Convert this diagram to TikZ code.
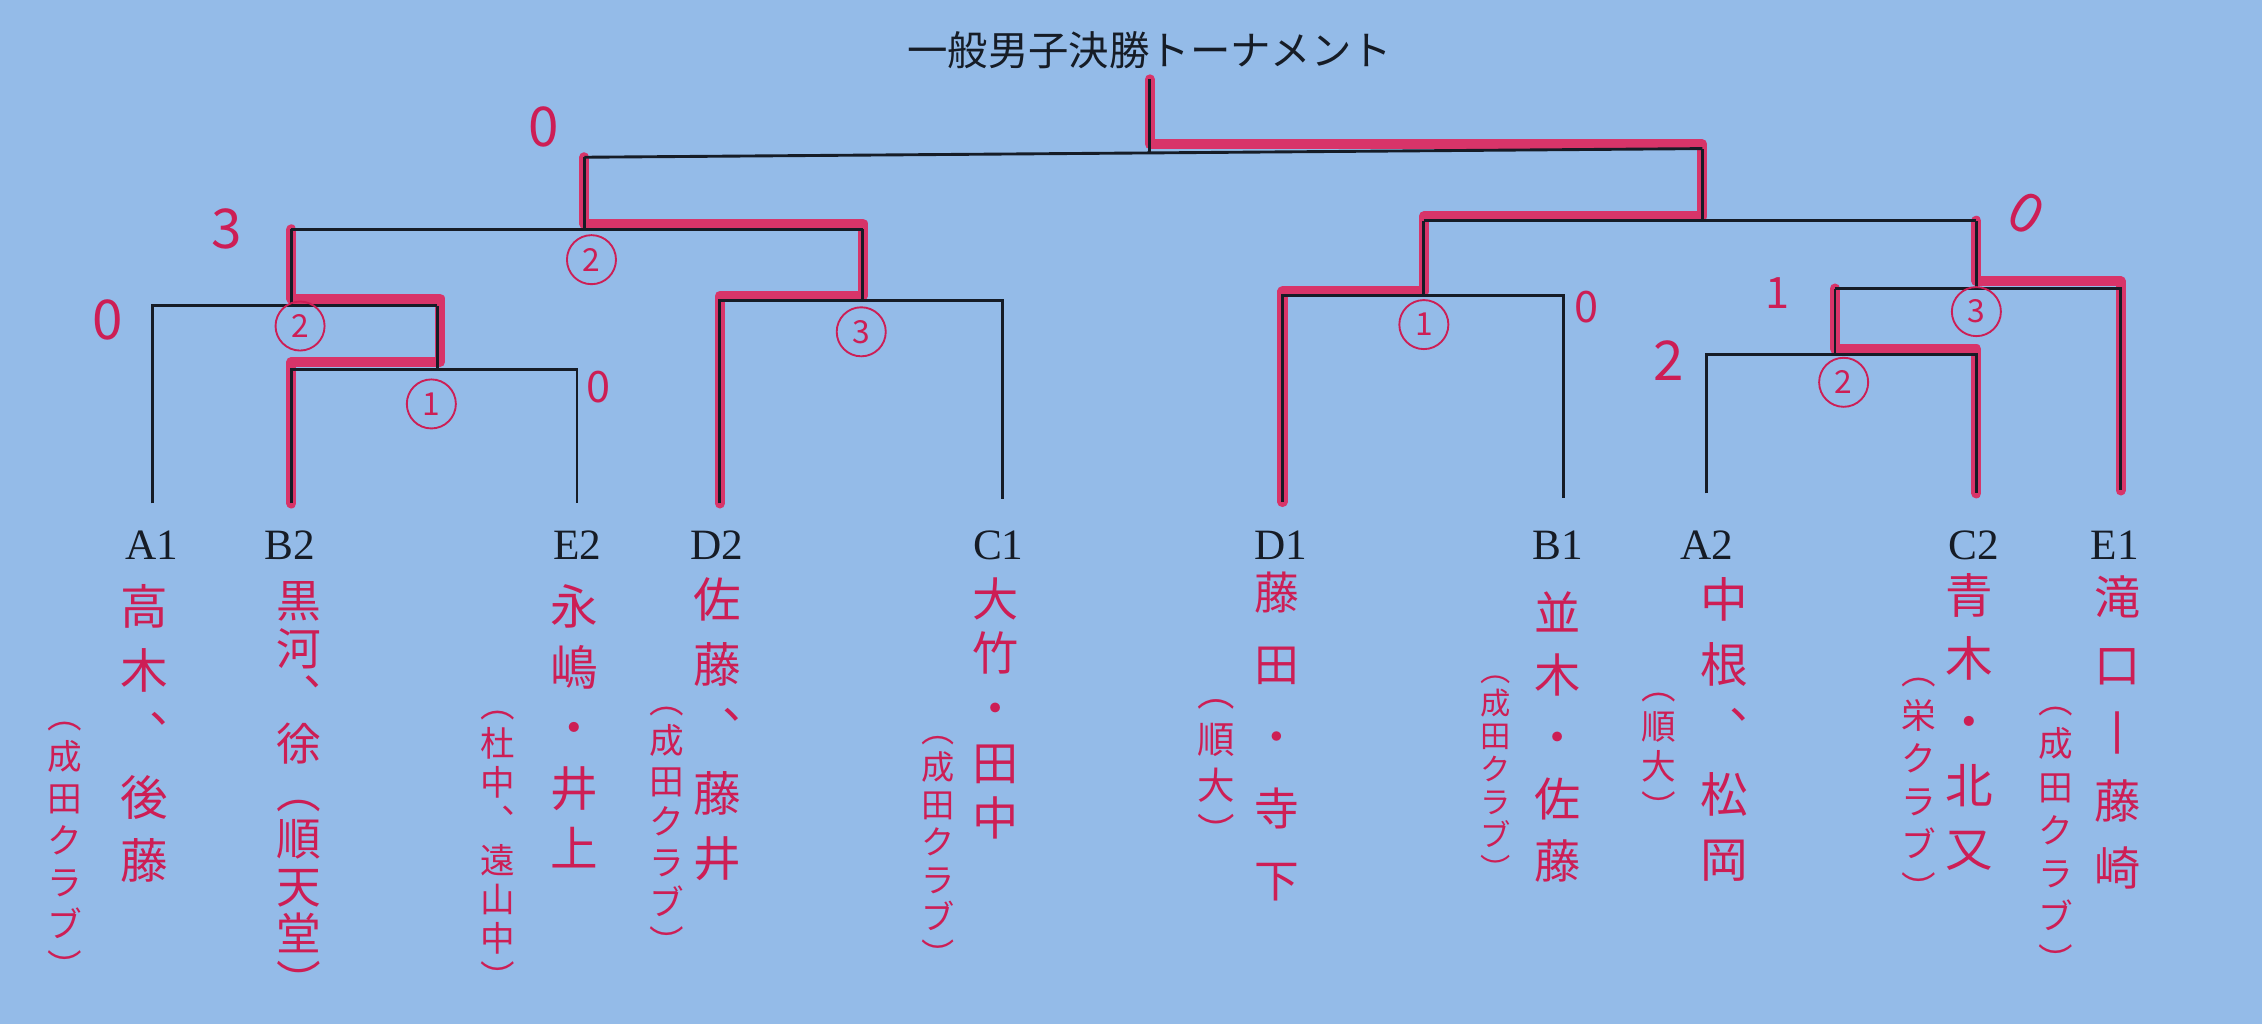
\documentclass[tikz,border=0pt]{standalone}
\usepackage{fontspec}
\usetikzlibrary{calc}
\newfontfamily\jp{Noto Sans CJK JP}
\newfontfamily\lab{Liberation Serif}
\definecolor{paper}{RGB}{148,187,232}
\definecolor{ink}{RGB}{205,30,85}
\definecolor{mark}{RGB}{224,38,92}
\definecolor{pen}{RGB}{22,28,38}
\tikzset{
  bracket/.style={draw=pen, line width=2pt},
  win/.style={draw=mark, line width=7pt, line cap=round, line join=round, opacity=0.9},
  seed/.style={font=\lab\fontsize{30}{30}\selectfont, text=pen, inner sep=0pt},
  title/.style={font=\jp\fontsize{28}{28}\selectfont, text=pen, inner sep=0pt},
  namecol/.style={font=\jp\fontsize{33}{44}\selectfont, text=ink, align=center, inner sep=0pt, anchor=north},
  clubcol/.style={font=\jp\fontsize{24}{29}\selectfont, text=ink, align=center, inner sep=0pt, anchor=north},
  score/.style={font=\jp\fontsize{38}{38}\selectfont, text=ink, inner sep=0pt},
  smallscore/.style={font=\jp\fontsize{30}{30}\selectfont, text=ink, inner sep=0pt},
  rank/.style={circle, draw=ink, line width=1.3pt, minimum size=34pt, inner sep=0pt, font=\jp\fontsize{22}{22}\selectfont, text=ink},
}
\begin{document}
\begin{tikzpicture}[x=1pt,y=-1pt]
\fill[paper] (0,0) rectangle (1568,710);
\useasboundingbox (0,0) rectangle (1568,710);

% title
\node[title] (title) at (797,35) {一般男子決勝トーナメント};

% leaf bottoms
\coordinate (bA1) at (106,349);
\coordinate (bB2) at (202,349);
\coordinate (bE2) at (400,349);
\coordinate (bD2) at (499,349);
\coordinate (bC1) at (695,346);
\coordinate (bD1) at (889,348);
\coordinate (bB1) at (1084,345);
\coordinate (bA2) at (1183,342);
\coordinate (bC2) at (1370,342);
\coordinate (bE1) at (1470,340);

% junctions
\coordinate (j1) at (303,256);  \coordinate (j1t) at (303,212);
\coordinate (j2) at (202,212);  \coordinate (j2t) at (202,159);
\coordinate (j3) at (598,208);  \coordinate (j3t) at (598,159);
\coordinate (jL) at (405,159);  \coordinate (jLt) at (405,109);
\coordinate (j4) at (987,205);  \coordinate (j4t) at (987,153);
\coordinate (j5) at (1272,246); \coordinate (j5t) at (1272,200);
\coordinate (j6) at (1370,200); \coordinate (j6t) at (1370,153);
\coordinate (jR) at (1180,153); \coordinate (jRt) at (1180,103);
\coordinate (jF) at (797,106);  \coordinate (jFt) at (797,55);

% winner highlights
\draw[win] (bB2) |- ($(j1)+(2,-5)$) |- ($(j2)+(0,-5)$) -- (j2t);
\draw[win] (bD2) |- ($(j3)+(0,-3)$) |- ($(jL)+(0,-4)$) -- (jLt);
\draw[win] (jFt) |- ($(jRt)+(0,-3)$) |- ($(j4t)+(0,-3)$) |- ($(bD1|-j4)+(0,-3)$) -- (bD1);
\draw[win] (j6t) |- ($(bE1|-j6)+(0,-5)$) -- (bE1);
\draw[win] (j5t) |- ($(bC2|-j5)+(0,-4)$) -- (bC2);

% bracket
\draw[bracket] (bB2) |- (j1) -| (bE2);
\draw[bracket] (j1) -- (j1t);
\draw[bracket] (bA1) |- (j2) -| (j1t);
\draw[bracket] (j2) -- (j2t);
\draw[bracket] (bD2) |- (j3) -| (bC1);
\draw[bracket] (j3) -- (j3t);
\draw[bracket] (j2t) -- (j3t);
\draw[bracket] (jL) -- (jLt);
\draw[bracket] (bD1) |- (j4) -| (bB1);
\draw[bracket] (j4) -- (j4t);
\draw[bracket] (bA2) |- (j5) -| (bC2);
\draw[bracket] (j5) -- (j5t);
\draw[bracket] (j5t) -- (j6) -| (bE1);
\draw[bracket] (j6) -- (j6t);
\draw[bracket] (j4t) -- (j6t);
\draw[bracket] (jR) -- (jRt);
\draw[bracket] (jLt) -- (jF) -- (jRt);
\draw[bracket] (jF) -- (jFt);

% seed labels
\node[seed] (sA1) at (105,378) {A1};
\node[seed] (sB2) at (201,378) {B2};
\node[seed] (sE2) at (400,378) {E2};
\node[seed] (sD2) at (497,378) {D2};
\node[seed] (sC1) at (692,378) {C1};
\node[seed] (sD1) at (888,378) {D1};
\node[seed] (sB1) at (1080,378) {B1};
\node[seed] (sA2) at (1183,378) {A2};
\node[seed] (sC2) at (1368,378) {C2};
\node[seed] (sE1) at (1466,378) {E1};

% names (vertical)
\node[namecol] (nA1) at (100,405) {高\\木\\︑\\後\\藤};
\node[clubcol] (cA1) at (45,500) {︵\\成\\田\\ク\\ラ\\ブ\\︶};
\node[namecol, font=\jp\fontsize{31}{33}\selectfont] (nB2) at (207,403) {黒\\河\\︑\\徐\\︵\\順\\天\\堂\\︶};
\node[namecol, font=\jp\fontsize{33}{42}\selectfont] (nE2) at (398,405) {永\\嶋\\・\\井\\上};
\node[clubcol, font=\jp\fontsize{24}{27}\selectfont] (cE2) at (345,493) {︵\\杜\\中\\︑\\遠\\山\\中\\︶};
\node[namecol, font=\jp\fontsize{33}{45}\selectfont] (nD2) at (497,400) {佐\\藤\\︑\\藤\\井};
\node[clubcol, font=\jp\fontsize{24}{28}\selectfont] (cD2) at (462,490) {︵\\成\\田\\ク\\ラ\\ブ\\︶};
\node[namecol, font=\jp\fontsize{32}{38}\selectfont] (nC1) at (690,400) {大\\竹\\・\\田\\中};
\node[clubcol, font=\jp\fontsize{23}{26}\selectfont] (cC1) at (650,510) {︵\\成\\田\\ク\\ラ\\ブ\\︶};
\node[namecol, font=\jp\fontsize{31}{50}\selectfont] (nD1) at (885,396) {藤\\田\\・\\寺\\下};
\node[clubcol, font=\jp\fontsize{26}{32}\selectfont] (cD1) at (843,485) {︵\\順\\大\\︶};
\node[namecol, font=\jp\fontsize{32}{43}\selectfont] (nB1) at (1080,410) {並\\木\\・\\佐\\藤};
\node[clubcol, font=\jp\fontsize{21}{23}\selectfont] (cB1) at (1037,468) {︵\\成\\田\\ク\\ラ\\ブ\\︶};
\node[namecol, font=\jp\fontsize{33}{45}\selectfont] (nA2) at (1195,400) {中\\根\\︑\\松\\岡};
\node[clubcol, font=\jp\fontsize{24}{28}\selectfont] (cA2) at (1150,480) {︵\\順\\大\\︶};
\node[namecol, font=\jp\fontsize{33}{44}\selectfont] (nC2) at (1365,397) {青\\木\\・\\北\\又};
\node[clubcol, font=\jp\fontsize{24}{30}\selectfont] (cC2) at (1330,470) {︵\\栄\\ク\\ラ\\ブ\\︶};
\node[namecol, font=\jp\fontsize{32}{47}\selectfont] (nE1) at (1468,399) {滝\\口\\丨\\藤\\崎};
\node[clubcol, font=\jp\fontsize{24}{30}\selectfont] (cE1) at (1425,490) {︵\\成\\田\\ク\\ラ\\ブ\\︶};

% scores
\node[score] (sc1) at (377,88) {0};
\node[score] (sc2) at (157,159) {3};
\node[score] (sc3) at (75,222) {0};
\node[smallscore] (sc4) at (415,268) {0};
\node[smallscore] (sc5) at (1100,213) {0};
\node[smallscore] (sc6) at (1232,203) {1};
\node[score] (sc7) at (1157,250) {2};
\node[score, rotate=-30] (sc8) at (1405,148) {0};

% circled ranks
\node[rank] (rk1) at (410,180) {2};
\node[rank] (rk2) at (208,226) {2};
\node[rank] (rk3) at (299,280) {1};
\node[rank] (rk4) at (597,230) {3};
\node[rank] (rk5) at (987,225) {1};
\node[rank] (rk6) at (1370,216) {3};
\node[rank] (rk7) at (1278,265) {2};
\end{tikzpicture}
\end{document}
